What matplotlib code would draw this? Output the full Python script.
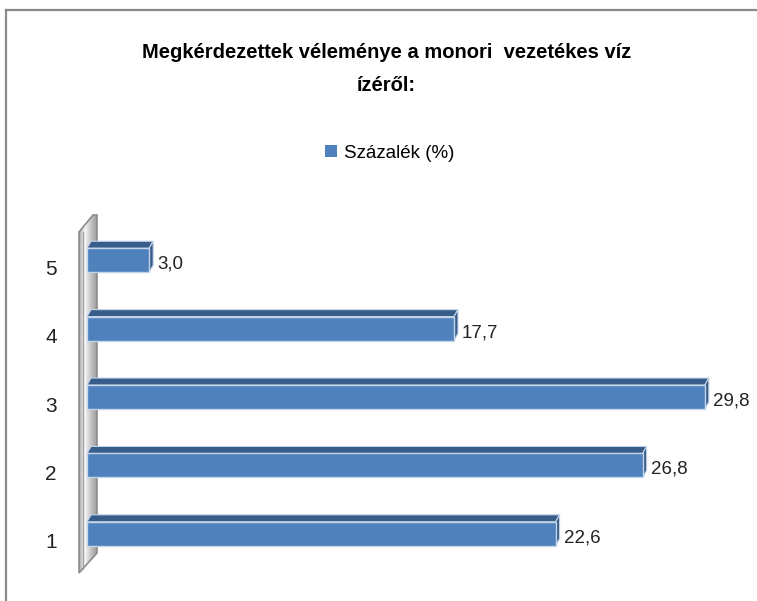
import numpy as np
import matplotlib
matplotlib.use("Agg")
import matplotlib.pyplot as plt
import matplotlib.transforms as mtransforms
from matplotlib.patches import Polygon, Patch
from matplotlib.lines import Line2D

categories = [1, 2, 3, 4, 5]
values = [22.6, 26.8, 29.8, 17.7, 3.0]
value_labels = ["22,6", "26,8", "29,8", "17,7", "3,0"]
series_name = "Százalék (%)"
title = "Megkérdezettek véleménye a monori  vezetékes víz\nízéről:"

front_color = "#4F81BD"
dark_color = "#385D8A"
depth = (4, 7)  # a 3D mélység képpontban

plt.rcParams['font.family'] = ['Liberation Sans', 'DejaVu Sans']

fig = plt.figure(figsize=(7.57, 6.01), dpi=100)
ax = fig.add_axes([87 / 757, 33 / 601, 622 / 757, 342 / 601])
ax.set_xlim(0, 30)
ax.set_ylim(0.5, 5.5)
ax.set_axis_off()

ident = mtransforms.IdentityTransform()

# a bal oldali fal, a tengelyek dobozából számolva
(ax0, ay0), (ax1, ay1) = ax.transAxes.transform([(0, 0), (1, 1)])
wall = [(ax0 - 8, ay0 - 5), (ax0 - 8, ay1 - 6), (ax0 + 6, ay1 + 11),
        (ax0 + 10, ay1 + 11), (ax0 + 10, ay0 + 15)]
grad = np.linspace(0, 1, 256).reshape(1, -1)
cmap = matplotlib.colors.LinearSegmentedColormap.from_list(
    "wall", ["#a8a8a8", "#f6f6f6", "#c4c4c4", "#9a9a9a"])
im = ax.imshow(grad, cmap=cmap, aspect='auto', interpolation='bilinear',
               extent=(ax0 - 8, ax0 + 10, ay0 - 5, ay1 + 11), transform=ident, zorder=1)
wall_patch = Polygon(wall, closed=True, facecolor='none', edgecolor='#8c8c8c',
                     lw=1.2, transform=ident, zorder=2, clip_on=False)
ax.add_patch(wall_patch)
im.set_clip_box(fig.bbox)
im.set_clip_path(wall_patch)
ax.add_line(Line2D([ax0 - 4, ax0 - 4], [ay0 - 1, ay1 - 6], color='#a0a0a0',
                   lw=0.8, transform=ident, zorder=2, clip_on=False))

bar_h = 0.35
ax.barh(categories, values, height=bar_h, color=front_color,
        edgecolor='#C6D6EA', linewidth=1.0, zorder=4)

dx, dy = depth
for y, v, lab in zip(categories, values, value_labels):
    (x0, yb), (x1, yt) = ax.transData.transform([(0, y - bar_h / 2), (v, y + bar_h / 2)])
    top = [(x0, yt), (x1, yt), (x1 + dx, yt + dy), (x0 + dx, yt + dy)]
    side = [(x1, yb), (x1, yt), (x1 + dx, yt + dy), (x1 + dx, yb + dy)]
    for pts in (top, side):
        ax.add_patch(Polygon(pts, closed=True, facecolor=dark_color, clip_on=False,
                             edgecolor='#C6D6EA', lw=0.8, transform=ident, zorder=3))
    ax.text(v, y, lab, fontsize=13.5, color='#222222', va='center', ha='left',
            transform=mtransforms.offset_copy(ax.transData, fig, x=8, y=-4, units='dots'))

for y in categories:
    ax.text(0, y, str(y), fontsize=15, color='#222222', va='center', ha='right',
            transform=mtransforms.offset_copy(ax.transData, fig, x=-30, y=-9, units='dots'))

fig.text(387 / 757, 1 - 69 / 601, title, ha='center', va='center', fontsize=14.5,
         fontweight='bold', linespacing=1.95)

fig.legend(handles=[Patch(facecolor=front_color, label=series_name)],
           loc='center', bbox_to_anchor=(390 / 757, 1 - 153 / 601), frameon=False,
           handlelength=0.6, handleheight=0.6, handletextpad=0.4, fontsize=13.5)

# keret: felső és bal vonal
fig.add_artist(Line2D([6 / 757, 1], [1 - 10 / 601] * 2, color='#8a8a8a', lw=1.6,
                      transform=fig.transFigure))
fig.add_artist(Line2D([6 / 757] * 2, [0, 1 - 10 / 601], color='#8a8a8a', lw=1.6,
                      transform=fig.transFigure))

fig.savefig("out.png", dpi=100)
